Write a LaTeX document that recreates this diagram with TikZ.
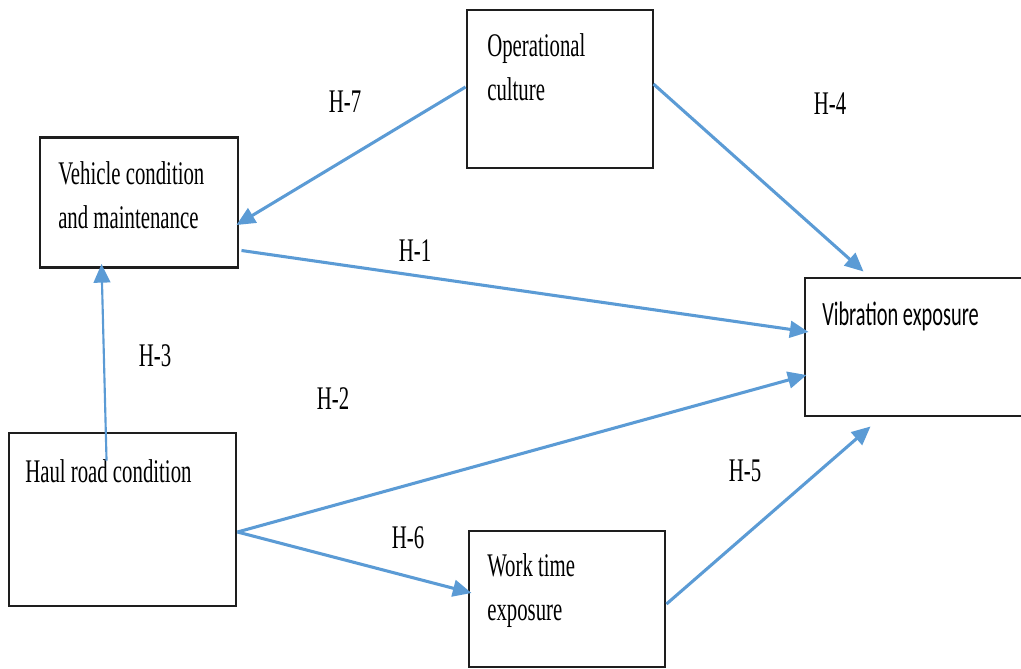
\documentclass[tikz,border=0pt]{standalone}
\usepackage{fontspec}
\usetikzlibrary{arrows.meta,calc}
\newfontfamily\tnr[FakeStretch=0.63]{Liberation Serif}
\newfontfamily\clb[FakeStretch=0.6]{Carlito}
\definecolor{arrblue}{RGB}{91,155,213}
\definecolor{boxline}{RGB}{30,30,30}
\tikzset{
  box/.style={draw=boxline, line width=2.2pt, rectangle, inner sep=0pt, fill=white},
  txt/.style={inner sep=0pt, anchor=base west, align=left, font=\tnr\fontsize{24.75pt}{33pt}\selectfont},
  hlab/.style={inner sep=0pt, anchor=base, font=\tnr\fontsize{24.75pt}{33pt}\selectfont},
  link/.style={draw=arrblue, line width=2.3pt, -{Triangle[length=14pt,width=12.5pt]}},
}
\begin{document}
\begin{tikzpicture}[x=0.75pt,y=-0.75pt]
\useasboundingbox (0,0) rectangle (1021,668);
% boxes
\node[box, minimum width=198*0.75pt, minimum height=130*0.75pt] (vc) at (139,202.5) {};
\node[box, minimum width=227*0.75pt, minimum height=173*0.75pt] (hr) at (122.5,519.5) {};
\node[box, minimum width=186*0.75pt, minimum height=158*0.75pt] (oc) at (560,89) {};
\node[box, minimum width=240*0.75pt, minimum height=138*0.75pt] (ve) at (925,347) {};
\node[box, minimum width=196*0.75pt, minimum height=136*0.75pt] (wt) at (567,599) {};
% texts (multi-line: anchored at the baseline of the last line)
\node[txt] (vct) at (58,228) {Vehicle condition\\and maintenance};
\node[txt] (hrt) at (25,482) {Haul road condition};
\node[txt] (oct) at (487,100) {Operational\\culture};
\node[txt, font=\clb\fontsize{25.5pt}{33pt}\selectfont] (vet) at (822,325) {Vibration exposure};
\node[txt] (wtt) at (487,620) {Work time\\exposure};
% labels
\node[hlab] (h7) at (345,112) {H-7};
\node[hlab] (h4) at (830,114) {H-4};
\node[hlab] (h1) at (415,261) {H-1};
\node[hlab] (h3) at (155,366) {H-3};
\node[hlab] (h2) at (333,409) {H-2};
\node[hlab] (h5) at (745,481) {H-5};
\node[hlab] (h6) at (408,548) {H-6};
% connectors
\draw[link] ($(oc.west)+(0,-2)$) -- ($(vc.east)+(-3,22.5)$);
\draw[link] ($(oc.east)+(-1,-5)$) -- ($(ve.north west)+(60,-5)$);
\draw[link] ($(vc.east)+(2,48)$) -- ($(ve.west)+(5,-15)$);
\draw[link] ($(hr.east)+(0,12.5)$) -- ($(ve.west)+(3,28)$);
\draw[link] ($(hr.east)+(0,12.5)$) -- ($(wt.west)+(4,-6)$);
\draw[link] ($(wt.east)+(0,5)$) -- ($(ve.south west)+(67,9)$);
\draw[link, line width=1.6pt] ($(hr.north west)+(99,29)$) -- ($(vc.south west)+(63,-5)$);
\end{tikzpicture}
\end{document}
